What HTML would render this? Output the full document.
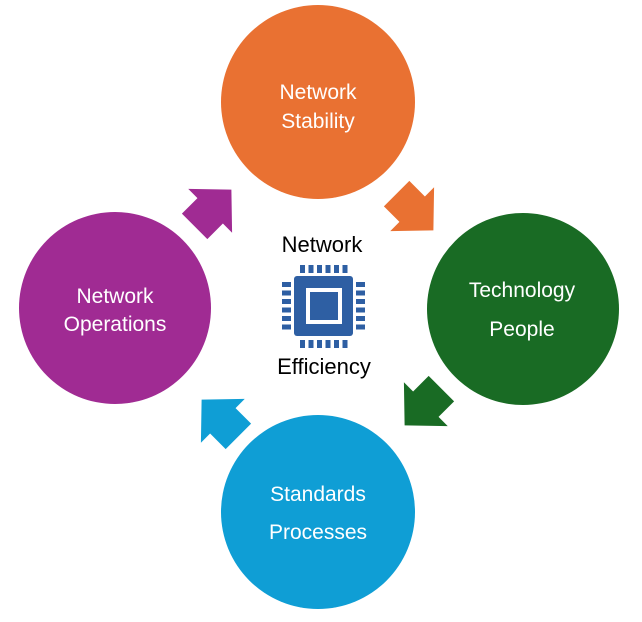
<!DOCTYPE html>
<html><head><style>
html,body{margin:0;padding:0;background:#fff;}
svg{display:block;}
text{font-family:"Liberation Sans",sans-serif;}
</style></head><body>
<svg width="642" height="622" viewBox="0 0 642 622">
<defs>
<polygon id="ar" points="-26,-18 -4,-18 -4,-31 26,0 -4,31 -4,18 -26,18"/>
</defs>
<circle cx="318" cy="102" r="97" fill="#E97132"/>
<circle cx="523" cy="309" r="96" fill="#196B24"/>
<circle cx="318" cy="512" r="97" fill="#0F9ED5"/>
<circle cx="115" cy="308" r="96" fill="#A02B93"/>
<use href="#ar" fill="#E97132" transform="translate(415,212) rotate(45)"/>
<use href="#ar" fill="#196B24" transform="translate(423,407) rotate(135)"/>
<use href="#ar" fill="#0F9ED5" transform="translate(220,418) rotate(-135)"/>
<use href="#ar" fill="#A02B93" transform="translate(213,208) rotate(-45)"/>
<g fill="#fff" font-size="21" text-anchor="middle">
<text x="318" y="99">Network</text>
<text x="318" y="128">Stability</text>
<text x="522" y="297">Technology</text>
<text x="522" y="336">People</text>
<text x="318" y="501">Standards</text>
<text x="318" y="539">Processes</text>
<text x="115" y="303">Network</text>
<text x="115" y="331">Operations</text>
</g>
<g fill="#000" font-size="22" text-anchor="middle">
<text x="322" y="252">Network</text>
<text x="324" y="374">Efficiency</text>
</g>
<g fill="#2E5FA3">
<rect x="294" y="276" width="59" height="60" rx="3"/>
<g id="pt">
<rect x="300" y="265" width="5" height="8"/><rect x="308.5" y="265" width="5" height="8"/><rect x="317" y="265" width="5" height="8"/><rect x="325.5" y="265" width="5" height="8"/><rect x="334" y="265" width="5" height="8"/><rect x="342.5" y="265" width="5" height="8"/>
</g>
<use href="#pt" transform="translate(0,75)"/>
<g id="pl">
<rect x="282" y="282" width="9" height="5"/><rect x="282" y="290.5" width="9" height="5"/><rect x="282" y="299" width="9" height="5"/><rect x="282" y="307.5" width="9" height="5"/><rect x="282" y="316" width="9" height="5"/><rect x="282" y="324.5" width="9" height="5"/>
</g>
<use href="#pl" transform="translate(74,0)"/>
</g>
<rect x="306" y="288" width="36" height="36" fill="#fff"/>
<rect x="310" y="292" width="28" height="28" fill="#2E5FA3"/>
</svg>
</body></html>
